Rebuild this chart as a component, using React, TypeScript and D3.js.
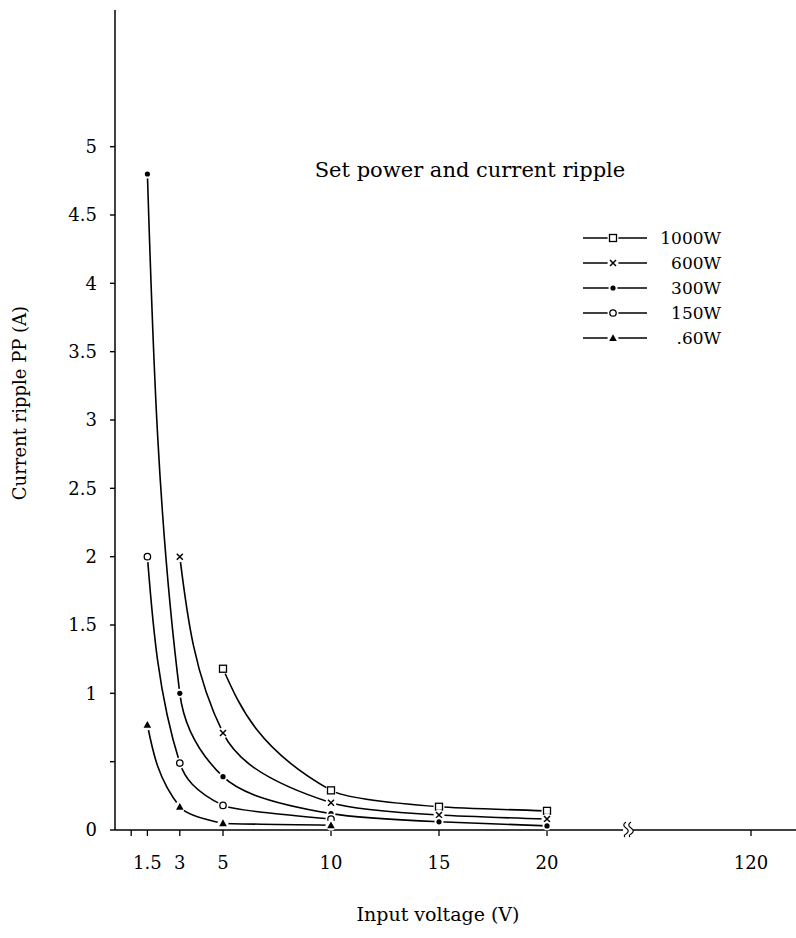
import React from "react";
import * as d3 from "d3";

// ---- data ----
const seriesNames = ["1000W", "600W", "300W", "150W", "60W"];
const seriesLegendLabels = ["1000W", "600W", "300W", "150W", ".60W"];
const markerTypes = ["square", "cross", "dot", "circle", "triangle"];

const volts1000 = [5, 10, 15, 20];
const ripple1000 = [1.18, 0.29, 0.17, 0.14];
const volts600 = [3, 5, 10, 15, 20];
const ripple600 = [2.0, 0.71, 0.2, 0.11, 0.08];
const volts300 = [1.5, 3, 5, 10, 15, 20];
const ripple300 = [4.8, 1.0, 0.39, 0.12, 0.06, 0.03];
const volts150 = [1.5, 3, 5, 10];
const ripple150 = [2.0, 0.49, 0.18, 0.08];
const volts60 = [1.5, 3, 5, 10];
const ripple60 = [0.77, 0.17, 0.05, 0.035];

const xTickValues = [0.75, 1.5, 3, 5, 10, 15, 20, 120];
const xTickLabels = ["", "1.5", "3", "5", "10", "15", "20", "120"];
const yTickValues = [0, 0.5, 1, 1.5, 2, 2.5, 3, 3.5, 4, 4.5, 5];
const yTickLabels = ["0", "", "1", "1.5", "2", "2.5", "3", "3.5", "4", "4.5", "5"];
const xBreakValue = 23.75;

const title = "Set power and current ripple";
const xTitle = "Input voltage (V)";
const yTitle = "Current ripple PP (A)";

const allVolts = [volts1000, volts600, volts300, volts150, volts60];
const allRipple = [ripple1000, ripple600, ripple300, ripple150, ripple60];

// ---- layout ----
const W = 796;
const H = 938;
const FONT = "'DejaVu Serif', serif";

const x = d3.scaleLinear().domain([0, 24, 118, 122]).range([115, 633.4, 707.8, 794.2]);
const y = d3.scaleLinear().domain([0, 6]).range([830, 10]);

function Marker({ type, cx, cy }: { type: string; cx: number; cy: number }) {
  const halo = <circle cx={cx} cy={cy} r={5.5} fill="#fff" />;
  if (type === "square")
    return (
      <g>
        {halo}
        <rect x={cx - 3.5} y={cy - 3.5} width={7} height={7} fill="#fff" stroke="#000" strokeWidth={1.3} />
      </g>
    );
  if (type === "cross")
    return (
      <g>
        {halo}
        <path d={`M${cx - 3},${cy - 3}L${cx + 3},${cy + 3}M${cx - 3},${cy + 3}L${cx + 3},${cy - 3}`} stroke="#000" strokeWidth={1.5} />
      </g>
    );
  if (type === "dot")
    return (
      <g>
        <circle cx={cx} cy={cy} r={4.5} fill="#fff" />
        <circle cx={cx} cy={cy} r={2.6} fill="#000" />
      </g>
    );
  if (type === "circle")
    return (
      <g>
        {halo}
        <circle cx={cx} cy={cy} r={3.2} fill="#fff" stroke="#000" strokeWidth={1.3} />
      </g>
    );
  const s = 3.8;
  return (
    <g>
      {halo}
      <path d={`M${cx},${cy - s}L${cx + s},${cy + s * 0.8}L${cx - s},${cy + s * 0.8}Z`} fill="#000" />
    </g>
  );
}

export default function App() {
  const line = d3
    .line<[number, number]>()
    .x((d) => x(d[0]))
    .y((d) => y(d[1]))
    .curve(d3.curveMonotoneY);

  const legendY = [238, 263, 288, 313, 338];

  return (
    <svg
      width={W}
      height={H}
      style={{ display: "block", position: "absolute", left: 0, top: 0, background: "#fff" }}
      fontFamily={FONT}
    >
      <rect width={W} height={H} fill="#fff" />
      {/* y axis */}
      <line x1={x(0)} x2={x(0)} y1={y(6)} y2={y(0)} stroke="#000" strokeWidth={1.5} />
      {yTickValues.map((v, i) => (
        <g key={"yt" + i}>
          <line x1={x(0) - 5} x2={x(0)} y1={y(v)} y2={y(v)} stroke="#000" strokeWidth={1.4} />
          {yTickLabels[i] && (
            <text x={x(0) - 18} y={y(v)} dy="0.35em" textAnchor="end" fontSize={18}>
              {yTickLabels[i]}
            </text>
          )}
        </g>
      ))}
      {/* x axis */}
      <line x1={x(0)} x2={W} y1={y(0)} y2={y(0)} stroke="#000" strokeWidth={1.6} />
      {xTickValues.map((v, i) => (
        <g key={"xt" + i}>
          <line x1={x(v)} x2={x(v)} y1={y(0)} y2={y(0) + 6} stroke="#000" strokeWidth={1.3} />
          {xTickLabels[i] && (
            <text x={x(v)} y={y(0) + 39} textAnchor="middle" fontSize={18}>
              {xTickLabels[i]}
            </text>
          )}
        </g>
      ))}
      {/* axis break */}
      <g>
        <rect x={x(xBreakValue) - 5} y={y(0) - 2} width={10} height={4} fill="#fff" />
        <path
          d={`M${x(xBreakValue) - 2},${y(0) - 8} c-3,2 -3,4 0,6 c3,2 3,4 0,6 c-2,1 -2,2 -1,3`}
          fill="none"
          stroke="#000"
          strokeWidth={1.2}
        />
        <path
          d={`M${x(xBreakValue) + 3},${y(0) - 8} c-3,2 -3,4 0,6 c3,2 3,4 0,6 c-2,1 -2,2 -1,3`}
          fill="none"
          stroke="#000"
          strokeWidth={1.2}
        />
      </g>
      {/* series */}
      {seriesNames.map((name, si) => {
        const pts: [number, number][] = allVolts[si].map((v, j) => [v, allRipple[si][j]]);
        return (
          <g key={name}>
            <path d={line(pts) || ""} fill="none" stroke="#000" strokeWidth={1.6} />
            {pts.map((p, j) => (
              <Marker key={j} type={markerTypes[si]} cx={x(p[0])} cy={y(p[1])} />
            ))}
          </g>
        );
      })}
      {/* title */}
      <text x={470} y={177} textAnchor="middle" fontSize={21}>
        {title}
      </text>
      {/* legend */}
      {seriesNames.map((name, si) => (
        <g key={"lg" + name}>
          <line x1={583} x2={647} y1={legendY[si]} y2={legendY[si]} stroke="#000" strokeWidth={1.6} />
          <Marker type={markerTypes[si]} cx={613} cy={legendY[si]} />
          <text x={721} y={legendY[si]} dy="0.35em" textAnchor="end" fontSize={17}>
            {seriesLegendLabels[si]}
          </text>
        </g>
      ))}
      {/* axis titles */}
      <text x={438} y={921} textAnchor="middle" fontSize={19}>
        {xTitle}
      </text>
      <text transform={`translate(26,403) rotate(-90)`} textAnchor="middle" fontSize={18}>
        {yTitle}
      </text>
    </svg>
  );
}
